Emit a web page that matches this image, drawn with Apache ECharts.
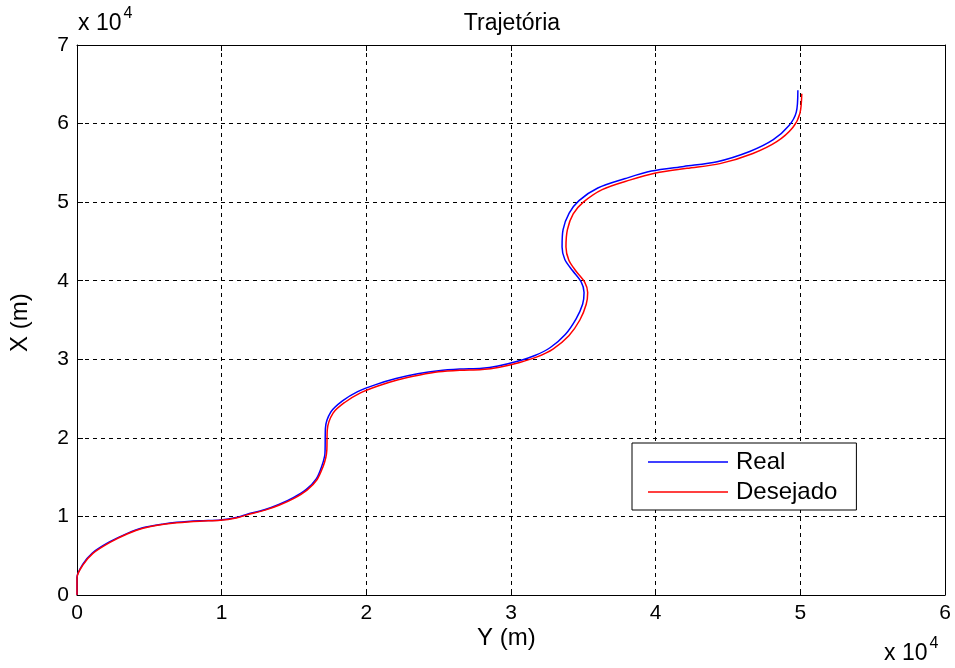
<!DOCTYPE html>
<html>
<head>
  <meta charset="utf-8" />
  <title>Trajetória</title>
  <script src="https://cdn.jsdelivr.net/npm/echarts@6/dist/echarts.min.js"></script>
  <style>
    html, body {
      height: 100%;
      margin: 0;
      padding: 0;
      background: #fff;
    }
    #main {
      width: 955px;
      height: 668px;
    }
  </style>
</head>
<body>
  <div id="main"></div>

  <script type="text/javascript">
    // Y (m) on the horizontal axis, X (m) on the vertical axis
    const realPath = [
      [0, 0], [0, 2250], [380, 3850], [1060, 5350], [2240, 6750], [3480, 7850], [4540, 8550],
      [6000, 9050], [6900, 9250], [8500, 9450], [9900, 9550], [11000, 9850], [11720, 10250],
      [12950, 10850], [13950, 11520], [14950, 12400], [15850, 13450], [16550, 14820],
      [16930, 16450], [17120, 17700], [17150, 18500], [17170, 21200], [17550, 23300],
      [18350, 24700], [19400, 25880], [20650, 26780], [22050, 27550], [23550, 28150],
      [25000, 28550], [26470, 28750], [28000, 28850], [29100, 29150], [30450, 29750],
      [31650, 30480], [32720, 31500], [33750, 33150], [34500, 35150], [34950, 37000],
      [35050, 38500], [34850, 39850], [34250, 41300], [33720, 42700], [33530, 44300],
      [33600, 46500], [34020, 48600], [34700, 50200], [36000, 51800], [37900, 53000],
      [39700, 53950], [41950, 54550], [44250, 55150], [46500, 56450], [48130, 57950],
      [49220, 59750], [49720, 61450], [49830, 64250]
    ];

    const desiredPath = [
      [0, 0], [0, 2200], [400, 3800], [1100, 5300], [2280, 6700], [3500, 7800], [4560, 8500],
      [6000, 9000], [6900, 9200], [8500, 9400], [9900, 9500], [11000, 9800], [11750, 10200],
      [13000, 10800], [14000, 11450], [15000, 12300], [15900, 13350], [16600, 14700],
      [17000, 16300], [17200, 17500], [17270, 18450], [17300, 21000], [17700, 23150],
      [18500, 24500], [19560, 25700], [20800, 26600], [22200, 27400], [23700, 28000],
      [25000, 28400], [26470, 28600], [28000, 28700], [29200, 29000], [30600, 29600],
      [31800, 30300], [32900, 31300], [34000, 33000], [34760, 35000], [35200, 37000],
      [35300, 38500], [35100, 39800], [34500, 41200], [34000, 42600], [33800, 44300],
      [33900, 46500], [34300, 48500], [35000, 50000], [36300, 51600], [38200, 52800],
      [40000, 53700], [42160, 54300], [44440, 54900], [46720, 56200], [48370, 57700],
      [49480, 59500], [49970, 61300], [50100, 63800]
    ];

    const seriesNames = ['Real', 'Desejado'];
    const tickScale = 10000;

    const chartDom = document.getElementById('main');
    const myChart = echarts.init(chartDom);

    const font = 'Arial, "Liberation Sans", sans-serif';
    const gridLine = { show: true, lineStyle: { color: '#000', type: [4, 4], width: 1 } };

    function axisBase(extra) {
      return Object.assign({
        type: 'value',
        interval: 10000,
        axisLine: { show: true, onZero: false, lineStyle: { color: '#000', width: 1 } },
        axisTick: { show: true, inside: true, length: 6, lineStyle: { color: '#000' } },
        axisLabel: {
          show: true,
          color: '#000',
          fontSize: 21,
          fontFamily: font,
          margin: 8,
          formatter: v => String(v / tickScale)
        }
      }, extra);
    }

    const expRich = {
      a: { fontSize: 23, fontFamily: font, padding: [8, 0, 0, 0] },
      b: { fontSize: 16, fontFamily: font, padding: [0, 0, 11, 2] }
    };

    const option = {
      animation: false,
      backgroundColor: '#fff',
      title: {
        text: 'Trajetória',
        left: 507,
        top: 7,
        textAlign: 'center',
        textStyle: { fontSize: 23, fontWeight: 'normal', color: '#000', fontFamily: font }
      },
      grid: { left: 77, right: 10, top: 45, bottom: 73, containLabel: false },
      legend: {
        data: seriesNames,
        orient: 'vertical',
        left: 632,
        top: 443,
        icon: 'path://M0,0H80V1.6H0Z',
        padding: [7, 19, 6, 16],
        itemGap: 6,
        itemWidth: 80,
        itemHeight: 24,
        backgroundColor: '#fff',
        borderColor: '#000',
        borderWidth: 1,
        textStyle: { fontSize: 24, color: '#000', fontFamily: font, padding: [0, 0, 0, 3] }
      },
      xAxis: [
        axisBase({ min: 0, max: 60000, position: 'bottom', splitLine: gridLine }),
        axisBase({ min: 0, max: 60000, position: 'top', axisLabel: { show: false }, splitLine: { show: false } })
      ],
      yAxis: [
        axisBase({ min: 0, max: 70000, position: 'left', splitLine: gridLine }),
        axisBase({ min: 0, max: 70000, position: 'right', axisLabel: { show: false }, splitLine: { show: false } })
      ],
      graphic: [
        {
          type: 'text', left: 78, top: 6,
          style: { text: '{a|x 10}{b|4}', fill: '#000', rich: expRich }
        },
        {
          type: 'text', left: 884, top: 636,
          style: { text: '{a|x 10}{b|4}', fill: '#000', rich: expRich }
        },
        {
          type: 'text', left: 477, top: 626,
          style: { text: 'Y (m)', fill: '#000', fontSize: 24, fontFamily: font }
        },
        {
          type: 'text', x: 8, y: 352, rotation: Math.PI / 2,
          style: { text: 'X (m)', fill: '#000', fontSize: 24, fontFamily: font }
        }
      ],
      series: [
        {
          name: seriesNames[0],
          type: 'line',
          symbol: 'none',
          smooth: 0.3,
          lineStyle: { color: '#0000ff', width: 1.5 },
          itemStyle: { color: '#0000ff' },
          data: realPath
        },
        {
          name: seriesNames[1],
          type: 'line',
          symbol: 'none',
          smooth: 0.3,
          lineStyle: { color: '#ff0000', width: 1.5 },
          itemStyle: { color: '#ff0000' },
          data: desiredPath
        }
      ]
    };

    myChart.setOption(option);
  </script>
</body>
</html>
